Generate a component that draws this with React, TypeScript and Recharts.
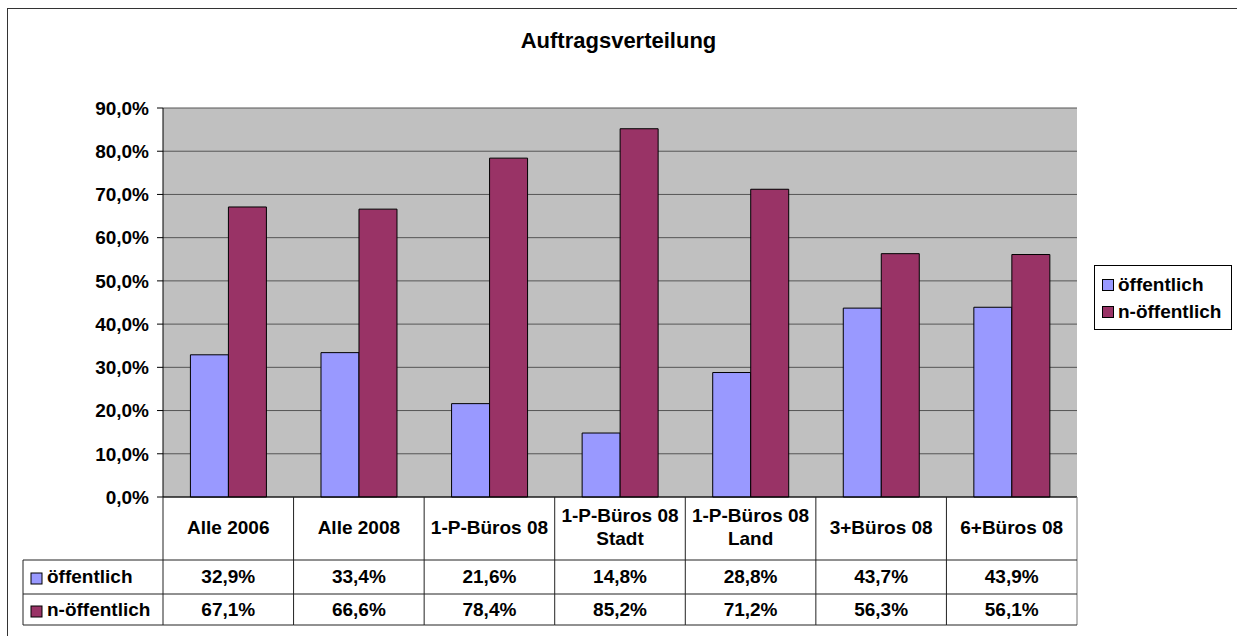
import { Bar, BarChart, CartesianGrid, XAxis, YAxis } from "recharts";

const categories = [
  "Alle 2006",
  "Alle 2008",
  "1-P-Büros 08",
  "1-P-Büros 08\nStadt",
  "1-P-Büros 08\nLand",
  "3+Büros 08",
  "6+Büros 08",
];
const oeffentlich = [32.9, 33.4, 21.6, 14.8, 28.8, 43.7, 43.9];
const nOeffentlich = [67.1, 66.6, 78.4, 85.2, 71.2, 56.3, 56.1];
const yTicks = [0, 10, 20, 30, 40, 50, 60, 70, 80, 90];

const series = [
  { key: "oeff", name: "öffentlich", color: "#9999FF", values: oeffentlich },
  { key: "noeff", name: "n-öffentlich", color: "#993366", values: nOeffentlich },
];

const data = categories.map((cat, i) => ({
  cat,
  oeff: oeffentlich[i],
  noeff: nOeffentlich[i],
}));

const FONT = "'Liberation Sans', Arial, sans-serif";
const FS = 19;
const pct = (v: number) => `${v.toFixed(1).replace(".", ",")}%`;
const LINE = "#222";

// each x tick draws one column of the data table below the plot
const TableTick = (props: any) => {
  const { x, y, payload, index, width, visibleTicksCount } = props;
  const n = visibleTicksCount || categories.length;
  const colW = (width || 914) / n;
  const l = x - colW / 2;
  const r = x + colW / 2;
  const lines = String(payload.value).split("\n");
  const txt = {
    fontFamily: FONT,
    fontSize: FS,
    fontWeight: 700,
    fill: "#000",
    textAnchor: "middle" as const,
  };
  const i = categories.indexOf(payload.value);
  return (
    <g>
      {index === 0 && (
        <g>
          <line x1={l} y1={y} x2={l} y2={y + 128} stroke={LINE} />
          <line x1={l - 140} y1={y + 63} x2={l} y2={y + 63} stroke={LINE} />
          <line x1={l - 140} y1={y + 97} x2={l} y2={y + 97} stroke={LINE} />
          <line x1={l - 140} y1={y + 128} x2={l} y2={y + 128} stroke={LINE} />
          <line x1={l - 140} y1={y + 63} x2={l - 140} y2={y + 128} stroke={LINE} />
          {series.map((s, k) => (
            <g key={s.key}>
              <rect
                x={l - 132}
                y={y + 76 + k * 33}
                width={11}
                height={11}
                fill={s.color}
                stroke="#000"
              />
              <text {...txt} textAnchor="start" x={l - 116} y={y + 86 + k * 33}>
                {s.name}
              </text>
            </g>
          ))}
        </g>
      )}
      <line x1={r} y1={y} x2={r} y2={y + 128} stroke={index === n - 1 ? "#777" : LINE} />
      <line x1={l} y1={y + 63} x2={r} y2={y + 63} stroke={LINE} />
      <line x1={l} y1={y + 97} x2={r} y2={y + 97} stroke={LINE} />
      <line x1={l} y1={y + 128} x2={r} y2={y + 128} stroke={LINE} />
      {lines.length === 1 ? (
        <text {...txt} x={x} y={y + 37}>
          {lines[0]}
        </text>
      ) : (
        lines.map((t, k) => (
          <text key={k} {...txt} x={x} y={y + 25 + k * 23}>
            {t}
          </text>
        ))
      )}
      {series.map((s, k) => (
        <text key={s.key} {...txt} x={x} y={y + 86 + k * 33}>
          {pct(s.values[i])}
        </text>
      ))}
    </g>
  );
};

const LegendBox = () => (
  <div
    style={{
      position: "absolute",
      left: 1094,
      top: 265,
      width: 138,
      height: 65,
      border: "1px solid #000",
      boxSizing: "border-box",
      background: "#fff",
      fontFamily: FONT,
      fontSize: FS,
      fontWeight: 700,
      paddingTop: 5,
      paddingLeft: 7,
    }}
  >
    {series.map((s) => (
      <div key={s.key} style={{ display: "flex", alignItems: "center", height: 27 }}>
        <span
          style={{
            display: "inline-block",
            width: 10,
            height: 10,
            background: s.color,
            border: "1px solid #000",
            marginRight: 4,
          }}
        />
        {s.name}
      </div>
    ))}
  </div>
);

export default function App() {
  return (
    <div
      style={{
        position: "absolute",
        left: 0,
        top: 0,
        width: 1237,
        height: 636,
        background: "#fff",
        overflow: "hidden",
      }}
    >
      <div
        style={{
          position: "absolute",
          left: 7,
          top: 8,
          width: 1230,
          height: 628,
          borderTop: "1px solid #333",
          borderLeft: "1px solid #333",
          boxSizing: "border-box",
        }}
      />
      <div
        style={{
          position: "absolute",
          left: 0,
          top: 28,
          width: 1237,
          textAlign: "center",
          fontFamily: FONT,
          fontSize: 22,
          fontWeight: 700,
        }}
      >
        Auftragsverteilung
      </div>
      <div style={{ position: "absolute", left: 0, top: 0 }}>
        <BarChart
          width={1237}
          height={636}
          data={data}
          margin={{ top: 108, right: 160, bottom: 11, left: 20 }}
          barGap={0}
          barCategoryGap="21%"
        >
          <CartesianGrid vertical={false} stroke="#555" fill="#C0C0C0" />
          <XAxis
            dataKey="cat"
            height={128}
            interval={0}
            tickSize={0}
            tickMargin={0}
            axisLine={{ stroke: "#000" }}
            tickLine={false}
            tick={<TableTick />}
          />
          <YAxis
            width={143}
            domain={[0, 90]}
            ticks={yTicks}
            tickFormatter={pct}
            tickSize={6}
            tickMargin={8}
            axisLine={{ stroke: "#000" }}
            tickLine={{ stroke: "#000" }}
            tick={{ fontFamily: FONT, fontSize: FS, fontWeight: 700, fill: "#000" }}
          />
          <YAxis
            yAxisId="r"
            orientation="right"
            width={0}
            tick={false}
            tickLine={false}
            axisLine={{ stroke: "#808080" }}
          />
          {series.map((s) => (
            <Bar
              key={s.key}
              dataKey={s.key}
              name={s.name}
              fill={s.color}
              stroke="#000"
              strokeWidth={1}
              isAnimationActive={false}
            />
          ))}
        </BarChart>
      </div>
      <LegendBox />
    </div>
  );
}
